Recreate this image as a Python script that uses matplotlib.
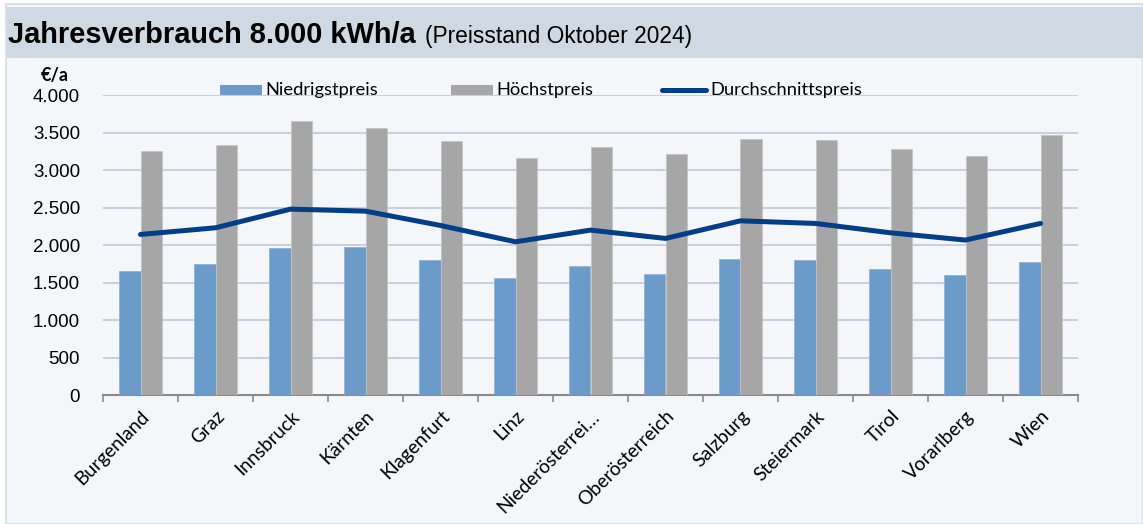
import matplotlib
matplotlib.use("Agg")
import matplotlib.pyplot as plt
import numpy as np
from matplotlib.patches import Rectangle
from matplotlib.lines import Line2D

categories = ["Burgenland", "Graz", "Innsbruck", "Kärnten", "Klagenfurt", "Linz",
              "Niederösterrei…", "Oberösterreich", "Salzburg", "Steiermark", "Tirol",
              "Vorarlberg", "Wien"]
niedrigst = [1658, 1742, 1964, 1969, 1795, 1560, 1715, 1609, 1818, 1795, 1680, 1595, 1773]
hoechst = [3253, 3342, 3658, 3569, 3391, 3160, 3311, 3209, 3418, 3400, 3284, 3195, 3471]
durchschnitt = [2142, 2231, 2480, 2453, 2262, 2044, 2200, 2089, 2324, 2289, 2164, 2067, 2289]
yticks = [0, 500, 1000, 1500, 2000, 2500, 3000, 3500, 4000]
ytick_labels = ["0", "500", "1.000", "1.500", "2.000", "2.500", "3.000", "3.500", "4.000"]
series_names = ["Niedrigstpreis", "Höchstpreis", "Durchschnittspreis"]

W, H = 1143, 524
fig = plt.figure(figsize=(W / 100, H / 100), dpi=100)
fig.patch.set_facecolor("white")

def px(x0, y0, w, h, **kw):
    r = Rectangle((x0 / W, 1 - (y0 + h) / H), w / W, h / H, transform=fig.transFigure, **kw)
    fig.add_artist(r)
    return r

# outer frame and backgrounds
px(6, 4, W - 6, H - 4, facecolor="#f4f6fa", edgecolor="#d3dbe5", linewidth=1.2, zorder=0)
px(7, 7, W - 7, 51, facecolor="#cfd9e4", edgecolor="none", zorder=0)

fig.text(8 / W, 1 - 35 / H, "Jahresverbrauch 8.000 kWh/a", fontsize=20.9, fontweight="bold",
         family="Liberation Sans", va="center", ha="left", color="black")
fig.text(425 / W, 1 - 36 / H, "(Preisstand Oktober 2024)", fontsize=16.4, family="Liberation Sans",
         va="center", ha="left", color="black")

ax = fig.add_axes([103 / W, 1 - 395 / H, 975 / W, 299.8 / H])
ax.set_facecolor("none")

blue, gray, navy = "#6b9bc9", "#a6a6a6", "#003f87"
x = np.arange(len(categories))
bw = 0.287
ax.bar(x - bw / 2, niedrigst, width=bw, color=blue, edgecolor="#8fb3d6", linewidth=0.6, zorder=3)
ax.bar(x + bw / 2, hoechst, width=bw, color=gray, edgecolor="#c4c4c4", linewidth=0.6, zorder=3)
ax.plot(x, durchschnitt, color=navy, linewidth=3.6, zorder=4, solid_capstyle="round")

ax.set_xlim(-0.5, len(categories) - 0.5)
ax.set_ylim(0, 4000)
ax.set_yticks(yticks)
ax.set_yticklabels(ytick_labels, family="Liberation Sans", fontsize=13.5)
ax.tick_params(axis="y", length=0, pad=16.5)
ax.yaxis.grid(True, color="#c5cfdf", linewidth=1.4, zorder=0)
ax.set_axisbelow(True)

ax.set_xticks(np.arange(-0.5, len(categories), 1.0))
ax.set_xticklabels([])
ax.tick_params(axis="x", which="major", length=5, color="#8a8a8a", width=1.2)
ax.set_xticks(x, minor=True)
ax.set_xticklabels(categories, minor=True, rotation=45, ha="right", rotation_mode="anchor",
                   family="Lato", fontsize=13.8)
ax.tick_params(axis="x", which="minor", length=0, pad=9)

for s in ["left", "right", "top"]:
    ax.spines[s].set_visible(False)
ax.spines["bottom"].set_color("#8a8a8a")
ax.spines["bottom"].set_linewidth(1.5)

fig.text(55 / W, 1 - 76 / H, "€/a", fontsize=13, fontweight="bold", family="Lato",
         ha="center", va="center")

# legend, laid out like the reference
leg_y = 90
leg_font = dict(family="Lato", fontsize=13.2, va="center", ha="left")
px(220, leg_y - 5, 42, 10, facecolor=blue, edgecolor="none", zorder=5)
fig.text(265 / W, 1 - leg_y / H, series_names[0], **leg_font)
px(451, leg_y - 5, 42, 10, facecolor=gray, edgecolor="none", zorder=5)
fig.text(496 / W, 1 - leg_y / H, series_names[1], **leg_font)
fig.add_artist(Line2D([662 / W, 706 / W], [1 - leg_y / H, 1 - leg_y / H], transform=fig.transFigure,
                      color=navy, linewidth=3.6, solid_capstyle="round", zorder=5))
fig.text(710 / W, 1 - leg_y / H, series_names[2], **leg_font)

fig.savefig("out.png", dpi=100, facecolor=fig.get_facecolor())
